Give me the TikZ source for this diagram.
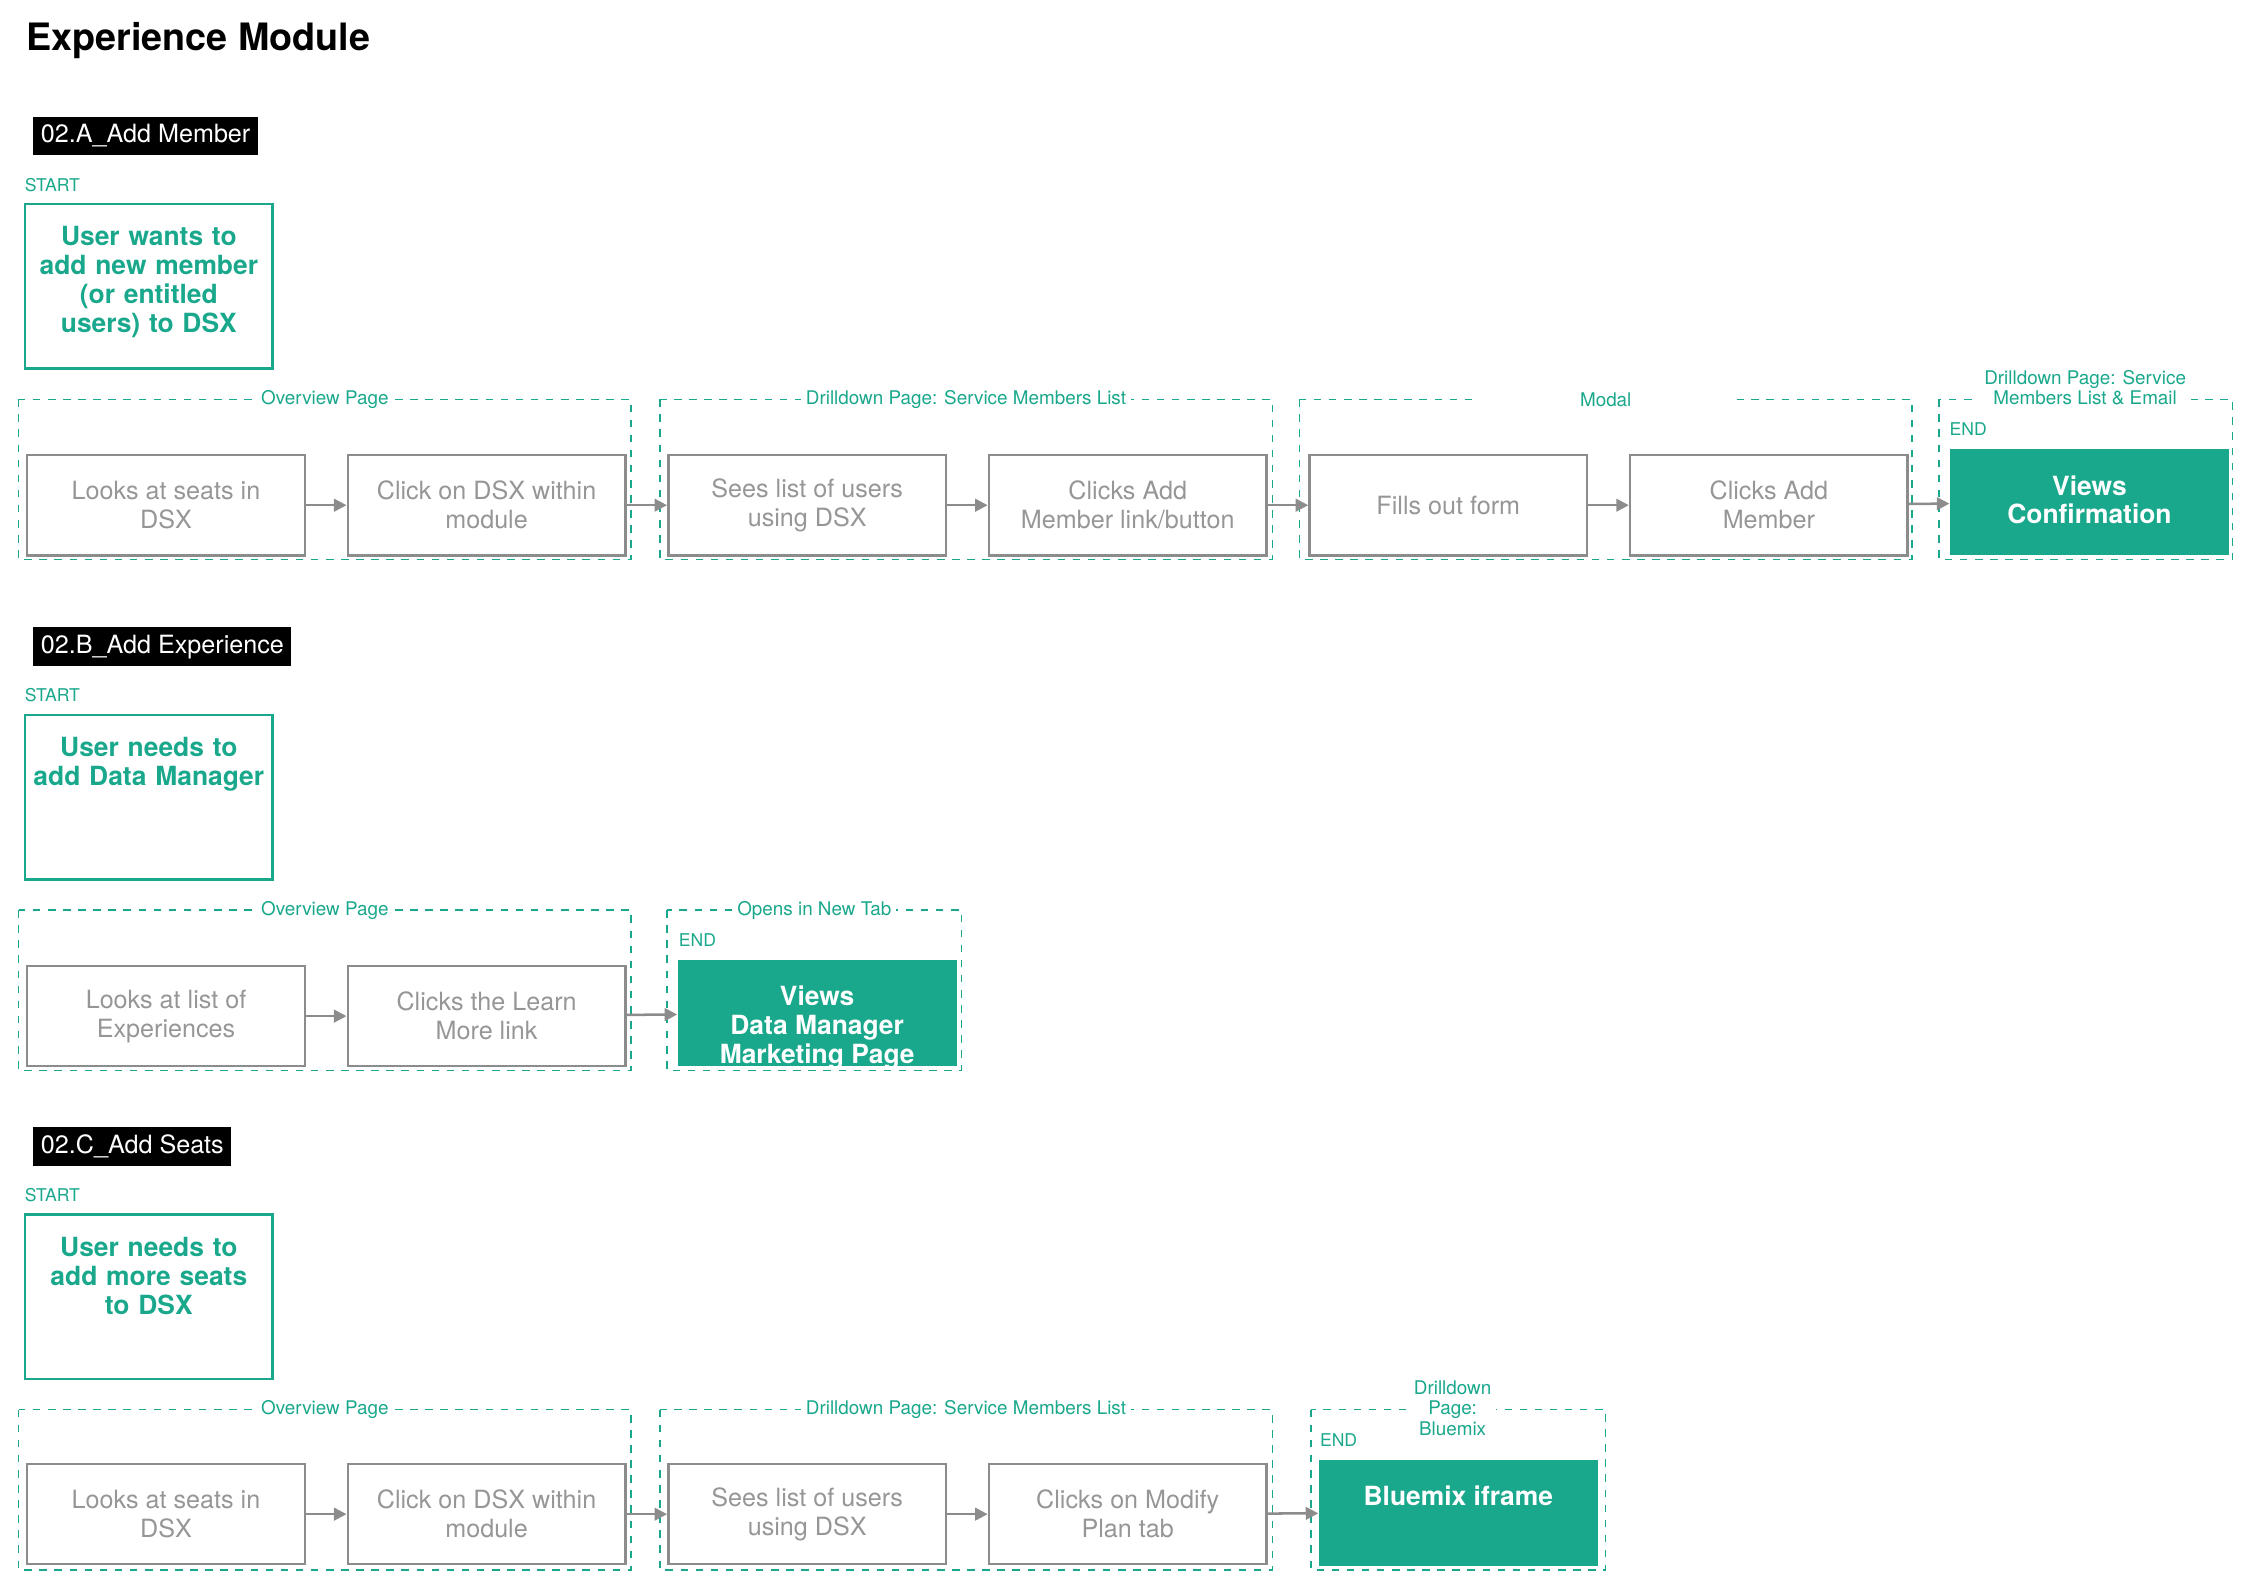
\documentclass[tikz,border=0pt]{standalone}
\usepackage{fontspec}
\setmainfont{TeX Gyre Heros}
\usetikzlibrary{arrows.meta,positioning}
\definecolor{flowgreen}{RGB}{26,168,140}
\definecolor{boxgray}{RGB}{140,140,140}
\definecolor{textgray}{RGB}{150,150,150}
\tikzset{
  stepbox/.style={draw=boxgray,line width=1pt,minimum width=3.88cm,minimum height=1.4cm,
    align=center,text=textgray,font=\fontsize{10}{11.5}\selectfont,inner sep=1pt},
  endbox/.style={fill=flowgreen,minimum width=3.9cm,minimum height=1.48cm,inner sep=0pt},
  endtext/.style={anchor=north,align=center,text=white,font=\bfseries\fontsize{10.5}{11.5}\selectfont},
  startbox/.style={draw=flowgreen,line width=1pt,minimum width=3.46cm,minimum height=2.3cm,inner sep=0pt},
  starttext/.style={anchor=north,align=center,text=flowgreen,text width=3.4cm,
    font=\bfseries\fontsize{10.5}{11.5}\selectfont},
  tag/.style={anchor=west,text=flowgreen,font=\fontsize{7}{8}\selectfont,inner sep=0pt},
  grp/.style={draw=flowgreen,dashed,line width=0.6pt},
  grplabel/.style={fill=white,text=flowgreen,align=center,inner sep=2pt,
    font=\fontsize{7.5}{8}\selectfont},
  section/.style={fill=black,text=white,anchor=west,inner sep=3pt,minimum height=0.52cm,
    font=\fontsize{10}{12}\selectfont},
  flow/.style={-{Triangle[length=5pt,width=5pt]},draw=boxgray,line width=1pt},
}
\begin{document}
\begin{tikzpicture}[x=0.02cm,y=-0.02cm]
  \useasboundingbox (0,0) rectangle (1568,1107);
  \node[anchor=west,inner sep=0pt,font=\bfseries\fontsize{15}{18}\selectfont] (title) at (18,28) {Experience Module};

  % 02.A
  \node[section] (secA) at (23,95) {02.A\_Add Member};
  \node[tag] (startA) at (17,129) {START};
  \node[startbox] (sA) at (104,200) {};
  \node[starttext] at (sA.north) [yshift=-6pt] {User wants to add new member (or entitled users) to DSX};
  \draw[grp] (13,279) rectangle (441,391);
  \draw[grp] (461,279) rectangle (889,391);
  \draw[grp] (908,279) rectangle (1336,391);
  \draw[grp] (1355,279) rectangle (1560,391);
  \node[grplabel] at (227,279) {Overview Page};
  \node[grplabel] at (675,279) {Drilldown Page: Service Members List};
  \node[grplabel] at (1122,279) {\hspace{1.4cm}Modal\hspace{1.4cm}};
  \node[grplabel] at (1457,271) {Drilldown Page: Service\\Members List \& Email};
  \node[stepbox] (a1) at (116,353) {Looks at seats in\\DSX};
  \node[stepbox] (a2) at (340,353) {Click on DSX within\\module};
  \node[stepbox] (a3) at (564,353) {Sees list of users\\using DSX};
  \node[stepbox] (a4) at (788,353) {Clicks Add\\Member link/button};
  \node[stepbox] (a5) at (1012,353) {Fills out form};
  \node[stepbox] (a6) at (1236,353) {Clicks Add\\Member};
  \node[tag] (endA) at (1362,300) {END};
  \node[endbox] (a7) at (1460,351) {};
  \node[endtext] at (a7.north) [yshift=-7pt] {Views\\Confirmation};
  \foreach \p/\q in {a1/a2,a2/a3,a3/a4,a4/a5,a5/a6,a6/a7}
    \draw[flow] (\p) -- (\q);

  % 02.B
  \node[section] (secB) at (23,452) {02.B\_Add Experience};
  \node[tag] (startB) at (17,486) {START};
  \node[startbox] (sB) at (104,557) {};
  \node[starttext] at (sB.north) [yshift=-6pt] {User needs to add Data Manager};
  \draw[grp] (13,636) rectangle (441,748);
  \draw[grp] (466,636) rectangle (672,748);
  \node[grplabel] at (227,636) {Overview Page};
  \node[grplabel] at (569,636) {Opens in New Tab};
  \node[stepbox] (b1) at (116,710) {Looks at list of\\Experiences};
  \node[stepbox] (b2) at (340,710) {Clicks the Learn\\More link};
  \node[tag] (endB) at (474,657) {END};
  \node[endbox] (b3) at (571,708) {};
  \node[endtext] at (b3.north) [yshift=-7pt] {Views\\Data Manager\\Marketing Page};
  \foreach \p/\q in {b1/b2,b2/b3}
    \draw[flow] (\p) -- (\q);

  % 02.C
  \node[section] (secC) at (23,801) {02.C\_Add Seats};
  \node[tag] (startC) at (17,835) {START};
  \node[startbox] (sC) at (104,906) {};
  \node[starttext] at (sC.north) [yshift=-6pt] {User needs to\\add more seats\\to DSX};
  \draw[grp] (13,985) rectangle (441,1097);
  \draw[grp] (461,985) rectangle (889,1097);
  \draw[grp] (916,985) rectangle (1122,1097);
  \node[grplabel] at (227,985) {Overview Page};
  \node[grplabel] at (675,985) {Drilldown Page: Service Members List};
  \node[grplabel] at (1015,984) {Drilldown\\Page:\\Bluemix};
  \node[stepbox] (c1) at (116,1058) {Looks at seats in\\DSX};
  \node[stepbox] (c2) at (340,1058) {Click on DSX within\\module};
  \node[stepbox] (c3) at (564,1058) {Sees list of users\\using DSX};
  \node[stepbox] (c4) at (788,1058) {Clicks on Modify\\Plan tab};
  \node[tag] (endC) at (922,1006) {END};
  \node[endbox] (c5) at (1019,1057) {};
  \node[endtext] at (c5.north) [yshift=-7pt] {Bluemix iframe};
  \foreach \p/\q in {c1/c2,c2/c3,c3/c4,c4/c5}
    \draw[flow] (\p) -- (\q);
\end{tikzpicture}
\end{document}
